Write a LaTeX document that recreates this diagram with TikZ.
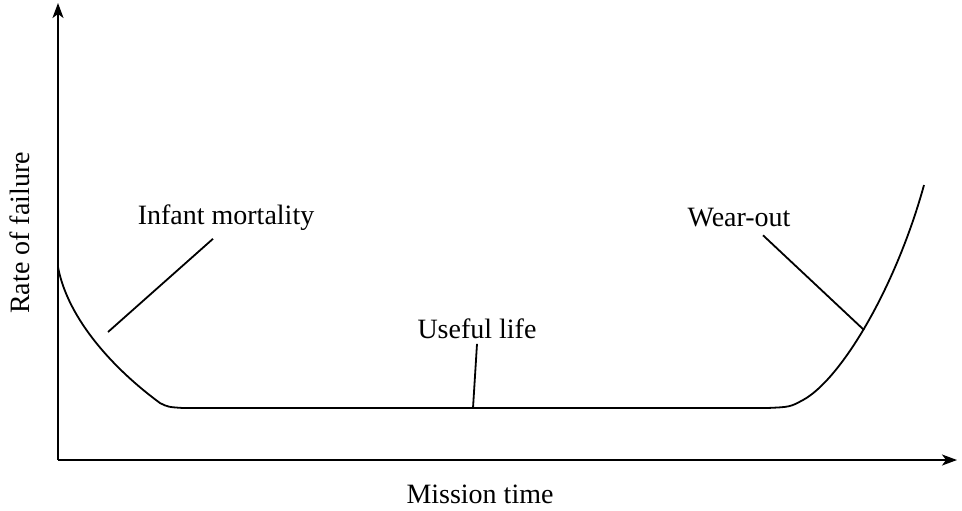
\documentclass[tikz,border=0pt]{standalone}
\usepackage{fontspec}
\setmainfont{Liberation Serif}
\usepackage{tikz}
\usetikzlibrary{arrows.meta}

\begin{document}
\begin{tikzpicture}[x=0.5pt,y=-0.5pt,line width=0.9pt,
    lbl/.style={font=\fontsize{14}{16}\selectfont, inner sep=0pt}]
    \useasboundingbox (0,0) rectangle (962,510);
    % axes
    \coordinate (O) at (58,460);
    \coordinate (Ytop) at (58,3);
    \coordinate (Xend) at (957,460);
    \draw[-{Stealth[length=7.5pt,width=5.5pt,inset=2pt]}] (O) -- (Ytop);
    \draw[-{Stealth[length=7.5pt,width=5.5pt,inset=2pt]}] (O) -- (Xend);
    \node[lbl, rotate=90] at (20,233) (ylab) {Rate of failure};
    \node[lbl] at (480,494) (xlab) {Mission time};
    % bathtub curve
    \coordinate (C0) at (58,267);
    \coordinate (C1) at (160,403);
    \coordinate (C2) at (183,408);
    \coordinate (C3) at (767,408);
    \coordinate (C4) at (803,400);
    \coordinate (C5) at (924,185);
    \draw (C0) .. controls (68,320) and (115,370) .. (C1)
          .. controls (168,407) .. (C2) -- (C3)
          .. controls (790,407) .. (C4)
          .. controls (840,380) and (895,290) .. (C5);
    % labels
    \node[lbl] at (226,218) (infant) {Infant mortality};
    \node[lbl] at (739,218) (wear) {Wear-out};
    \node[lbl] at (477,329) (useful) {Useful life};
    \coordinate (P1) at (108,332);
    \coordinate (P2) at (864,330);
    \coordinate (P3) at (473,408);
    \path (infant.south) ++(-13,7) coordinate (L1);
    \path (wear.south) ++(24,7) coordinate (L2);
    \path (useful.south) ++(0,4) coordinate (L3);
    \draw (P1) -- (L1);
    \draw (P2) -- (L2);
    \draw (P3) -- (L3);
\end{tikzpicture}
\end{document}
